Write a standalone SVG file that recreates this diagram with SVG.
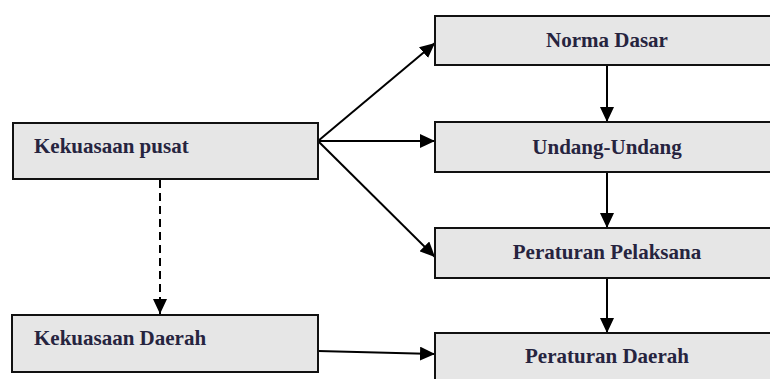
<svg xmlns="http://www.w3.org/2000/svg" width="770" height="379" viewBox="0 0 770 379">
<style>
.box{fill:#e6e6e6;stroke:#111;stroke-width:2}
.lbl{font-family:"Liberation Serif","Times New Roman",serif;font-weight:bold;font-size:21px;fill:#26243f}
.c{stroke:#000;stroke-width:2;fill:none;marker-end:url(#ah)}
.d{stroke-dasharray:8 5}
</style>
<defs>
<marker id="ah" markerUnits="userSpaceOnUse" markerWidth="16" markerHeight="14" refX="15" refY="7" orient="auto">
<path d="M0,0 L15,7 L0,14 Z" fill="#000"/>
</marker>
</defs>
<rect width="770" height="379" fill="#fff"/>
<g id="connectors">
<line class="c" x1="318" y1="141" x2="435" y2="43"/>
<line class="c" x1="318" y1="141" x2="435" y2="141"/>
<line class="c" x1="318" y1="141" x2="435" y2="257"/>
<line class="c" x1="607" y1="65" x2="607" y2="122"/>
<line class="c" x1="607" y1="172" x2="607" y2="228"/>
<line class="c" x1="607" y1="278" x2="607" y2="333"/>
<line class="c d" x1="160" y1="180" x2="160" y2="314"/>
<line class="c" x1="318" y1="351" x2="435" y2="354"/>
</g>
<g id="n-pusat">
<rect class="box" x="13" y="123" width="305" height="56"/>
<text class="lbl" x="34" y="153">Kekuasaan pusat</text>
</g>
<g id="n-daerah">
<rect class="box" x="12" y="315" width="306" height="57"/>
<text class="lbl" x="34" y="345">Kekuasaan Daerah</text>
</g>
<g id="n-norma">
<rect class="box" x="435" y="16" width="344" height="49"/>
<text class="lbl" x="607" y="47" text-anchor="middle">Norma Dasar</text>
</g>
<g id="n-uu">
<rect class="box" x="435" y="122" width="344" height="50"/>
<text class="lbl" x="607" y="154" text-anchor="middle">Undang-Undang</text>
</g>
<g id="n-pp">
<rect class="box" x="435" y="228" width="344" height="50"/>
<text class="lbl" x="607" y="259" text-anchor="middle">Peraturan Pelaksana</text>
</g>
<g id="n-perda">
<rect class="box" x="435" y="333" width="344" height="60"/>
<text class="lbl" x="607" y="363" text-anchor="middle">Peraturan Daerah</text>
</g>
</svg>
